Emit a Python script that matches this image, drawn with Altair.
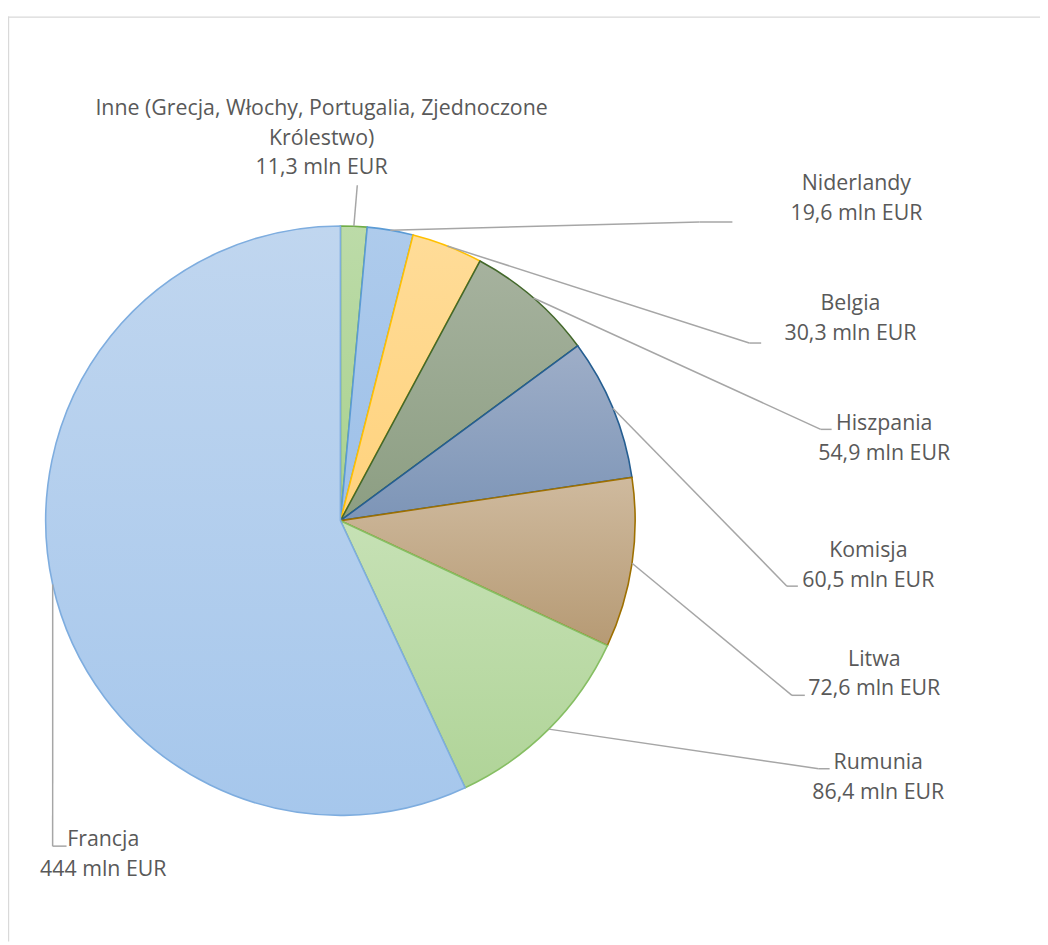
import altair as alt
import pandas as pd

# ---------------- data ----------------
names = [
    "Inne (Grecja, Włochy, Portugalia, Zjednoczone\nKrólestwo)",
    "Niderlandy",
    "Belgia",
    "Hiszpania",
    "Komisja",
    "Litwa",
    "Rumunia",
    "Francja",
]
values = [11.3, 19.6, 30.3, 54.9, 60.5, 72.6, 86.4, 444]
unit = "mln EUR"

# ---------------- styles ----------------
fill_top = ["#BCDBA8", "#AECBEC", "#FFDC98", "#A6B29E", "#9EAEC8", "#CFBA9E", "#C6E1B5", "#C0D6EF"]
fill_bottom = ["#A9D18E", "#9DC0E8", "#FFD27C", "#8C9E82", "#7D95B7", "#B69A74", "#B0D498", "#A6C7EC"]
strokes = ["#70AD47", "#5B9BD5", "#FFC000", "#43682B", "#255E91", "#9E7000", "#86BE63", "#7EADDF"]
text_color = "#595959"
leader_color = "#A6A6A6"
FONT = "Open Sans"
FONT_SIZE = 21.5

# ---------------- layout (chart pixel coordinates) ----------------
W, H = 1040, 937
CX, CY, R = 335, 513, 297
label_x = [316, 855, 849, 883, 867, 873, 877, 96]
label_y = [98, 174, 295, 416, 544, 653, 757, 835]   # centre of first line
elbow_x = [352, 697, 747, 819, 785, 790, 817, 45]
elbow_y = [175, 212, 334, 421, 579, 689, 763, 841]
end_x = [352, 730, 759, 830, 796, 803, 828, 59]
end_y = [175, 212, 334, 421, 579, 689, 763, 841]

df = pd.DataFrame({
    "idx": list(range(len(names))),
    "name": names,
    "value": values,
    "lx": label_x, "ly": label_y,
    "ex": elbow_x, "ey": elbow_y,
    "hx": end_x, "hy": end_y,
})


def grad(top, bottom):
    return {
        "gradient": "linear", "x1": 0, "y1": 0, "x2": 0, "y2": 1,
        "stops": [{"offset": 0, "color": top}, {"offset": 1, "color": bottom}],
    }


fill_conditions = [
    {"test": f"datum.idx === {i}", "value": grad(fill_top[i], fill_bottom[i])}
    for i in range(len(names) - 1)
]
fill_enc = {"condition": fill_conditions, "value": grad(fill_top[-1], fill_bottom[-1])}

base = alt.Chart(df)

pie = base.mark_arc(outerRadius=R, strokeWidth=1.6).encode(
    theta=alt.Theta("value:Q", stack=True),
    order=alt.Order("idx:Q", sort="ascending"),
    x=alt.value(CX),
    y=alt.value(CY),
    fill=fill_enc,
    stroke=alt.Stroke("idx:N", scale=alt.Scale(domain=list(range(len(names))), range=strokes), legend=None),
)

with_angles = base.transform_window(
    cum="sum(value)", sort=[alt.SortField("idx")], frame=[None, 0]
).transform_joinaggregate(
    total="sum(value)"
).transform_calculate(
    ang="2*PI*(datum.cum - datum.value/2)/datum.total"
).transform_calculate(
    sx=f"{CX} + {R}*sin(datum.ang)",
    sy=f"{CY} - {R}*cos(datum.ang)",
)

leader1 = with_angles.mark_rule(color=leader_color, strokeWidth=1.5).encode(
    x=alt.X("sx:Q", scale=None, axis=None),
    y=alt.Y("sy:Q", scale=None, axis=None),
    x2="ex:Q",
    y2="ey:Q",
)
leader2 = base.mark_rule(color=leader_color, strokeWidth=1.5).encode(
    x=alt.X("ex:Q", scale=None, axis=None),
    y=alt.Y("ey:Q", scale=None, axis=None),
    x2="hx:Q",
    y2="hy:Q",
)

labels = base.transform_calculate(
    label="datum.name + '\\n' + replace(format(datum.value, '.4~g'), '.', ',') + ' " + unit + "'"
).mark_text(
    font=FONT, fontSize=FONT_SIZE, color=text_color, lineBreak="\n", lineHeight=30,
    align="center", baseline="middle",
).encode(
    x=alt.X("lx:Q", scale=None, axis=None),
    y=alt.Y("ly:Q", scale=None, axis=None),
    text="label:N",
)

frame_data = alt.Data(values=[{"k": 1}])
frame_left = alt.Chart(frame_data).mark_rule(color="#D9D9D9", strokeWidth=1.2).encode(
    x=alt.value(0.6), y=alt.value(5), y2=alt.value(H)
)
frame_top = alt.Chart(frame_data).mark_rule(color="#D9D9D9", strokeWidth=1.2).encode(
    x=alt.value(0), x2=alt.value(W), y=alt.value(5.6)
)

chart = alt.layer(frame_left, frame_top, pie, leader1, leader2, labels).properties(
    width=W, height=H, padding=0, autosize="none"
).configure_view(strokeWidth=0)

chart.save("out.html", embed_options={"renderer": "svg", "actions": False})
